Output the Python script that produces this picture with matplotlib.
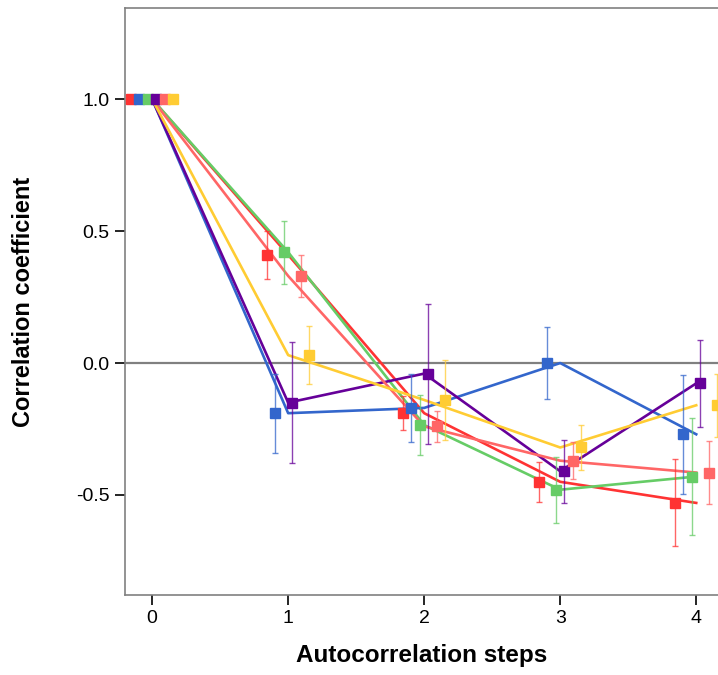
import numpy as np
import matplotlib
matplotlib.use("Agg")
import matplotlib.pyplot as plt

plt.rcParams['font.family'] = ['Liberation Sans', 'DejaVu Sans']

steps = [0, 1, 2, 3, 4]

# series order as drawn left to right inside each step group
names = ['red', 'blue', 'green', 'purple', 'salmon', 'yellow']
colors = ['#FF3333', '#3366CC', '#66CC66', '#660099', '#FF6666', '#FFCC33']

red = [1.0, 0.41, -0.19, -0.45, -0.53]
blue = [1.0, -0.19, -0.17, 0.0, -0.27]
green = [1.0, 0.42, -0.235, -0.48, -0.43]
purple = [1.0, -0.15, -0.04, -0.41, -0.077]
salmon = [1.0, 0.33, -0.24, -0.37, -0.415]
yellow = [1.0, 0.03, -0.14, -0.32, -0.16]

red_err = [0, 0.09, 0.065, 0.075, 0.165]
blue_err = [0, 0.15, 0.13, 0.135, 0.225]
green_err = [0, 0.12, 0.115, 0.125, 0.22]
purple_err = [0, 0.23, 0.265, 0.12, 0.165]
salmon_err = [0, 0.08, 0.06, 0.07, 0.12]
yellow_err = [0, 0.11, 0.15, 0.085, 0.12]

values = [red, blue, green, purple, salmon, yellow]
errors = [red_err, blue_err, green_err, purple_err, salmon_err, yellow_err]
offsets = [-0.156, -0.094, -0.031, 0.031, 0.094, 0.156]

fig = plt.figure(figsize=(7.18, 6.75), dpi=100)
ax = fig.add_axes([0.174, 0.1185, 0.826, 0.8695])

ax.axhline(0, color='#808080', lw=1.6, zorder=1)

x = np.array(steps, dtype=float)
for v, e, c, off in zip(values, errors, colors, offsets):
    ax.plot(x, v, color=c, lw=1.9, zorder=2)
    # error bars only where there is spread
    ax.errorbar(x[1:] + off, v[1:], yerr=e[1:], fmt='none', ecolor=c,
                elinewidth=1, capsize=2, capthick=1, alpha=0.75, zorder=3)
    ax.plot(x + off, v, 's', color=c, ms=7, mec=c, zorder=4)

ax.set_xlim(-0.2, 4.16)
ax.set_ylim(-0.879, 1.345)
ax.set_xticks(steps)
ax.set_yticks([-0.5, 0.0, 0.5, 1.0])
ax.set_yticklabels(['-0.5', '0.0', '0.5', '1.0'])

for s in ['left', 'bottom', 'top']:
    ax.spines[s].set_color('#808080')
    ax.spines[s].set_linewidth(1.2)
ax.spines['right'].set_visible(False)
ax.tick_params(direction='out', length=7, width=1.2, color='black',
               labelsize=14, pad=4)

ax.set_xlabel('Autocorrelation steps', fontsize=17.5, fontweight='bold')
ax.set_ylabel('Correlation coefficient', fontsize=17, fontweight='bold')
ax.xaxis.set_label_coords(0.5, -0.084)
ax.yaxis.set_label_coords(-0.152, 0.5)

fig.savefig('out.png', dpi=100)
